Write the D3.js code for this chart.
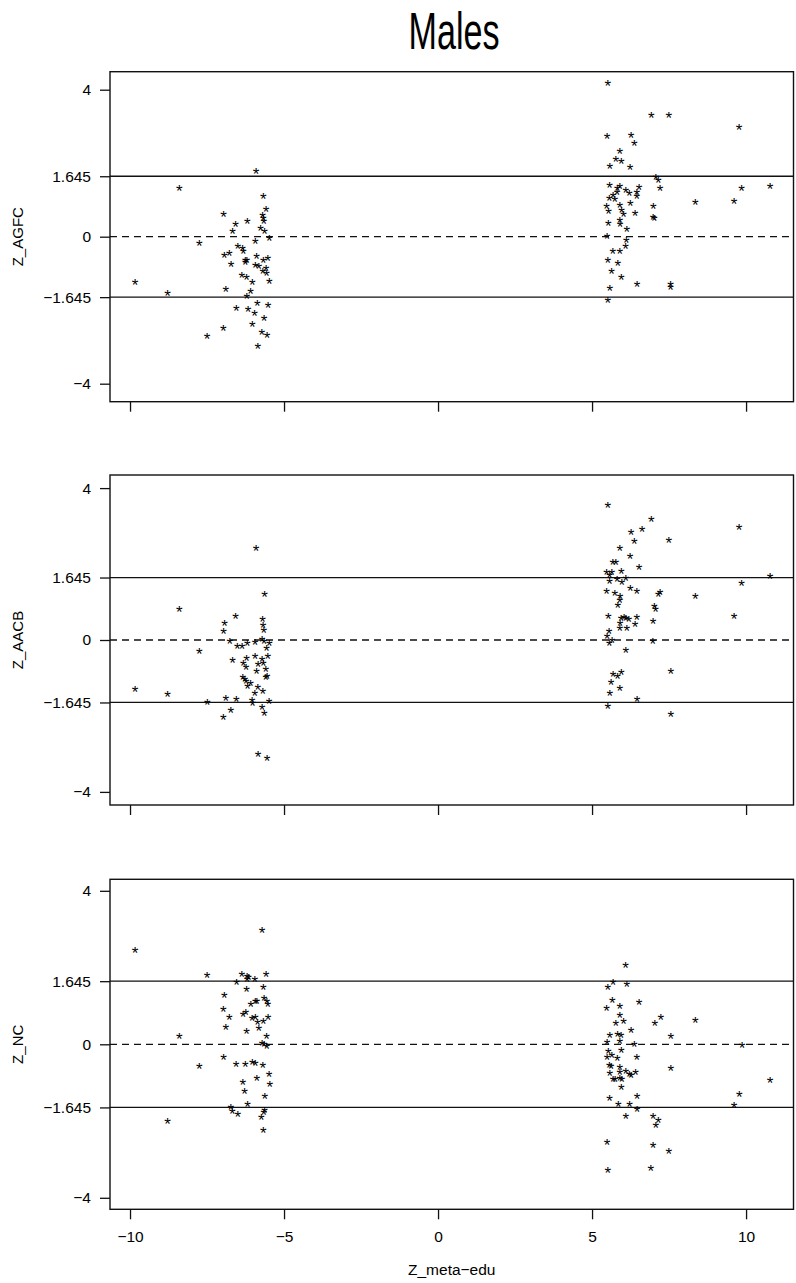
<!DOCTYPE html>
<html>
<head>
<meta charset="utf-8">
<script src="https://cdn.jsdelivr.net/npm/d3@7"></script>
<style>
  body { margin: 0; background: #fff; }
  text { font-family: "Liberation Sans", Arial, sans-serif; }
</style>
</head>
<body>
<div id="chart"></div>
<script>
// x ticks shared by all three panels, y ticks per panel
const xTicks = [-10, -5, 0, 5, 10];
const yTicks = [4, 1.645, 0, -1.645, -4];
const refValues = [1.645, 0, -1.645];
const panelLabels = ["Z_AGFC", "Z_AACB", "Z_NC"];

// [Z_meta-edu, Z_score]
const agfcPoints = [
  [-5.91, 1.80], [-8.40, 1.33], [-5.67, 1.13], [-5.58, 0.77], [-6.96, 0.63], [-5.70, 0.60],
  [-5.67, 0.53], [-5.66, 0.45], [-6.57, 0.36], [-6.19, 0.44], [-6.67, 0.16], [-5.76, 0.25],
  [-5.63, 0.17], [-5.48, -0.02], [-5.93, -0.10], [-7.75, -0.16], [-6.50, -0.25], [-6.35, -0.30],
  [-6.32, -0.38], [-6.94, -0.47], [-6.78, -0.44], [-5.89, -0.50], [-6.26, -0.62], [-6.26, -0.66],
  [-6.21, -0.63], [-5.53, -0.57], [-5.67, -0.63], [-6.72, -0.74], [-5.93, -0.75], [-5.82, -0.77],
  [-5.58, -0.83], [-5.69, -0.91], [-5.57, -0.96], [-6.37, -1.02], [-6.22, -1.08], [-6.03, -1.21],
  [-5.48, -1.18], [-9.84, -1.21], [-8.78, -1.51], [-6.89, -1.42], [-6.09, -1.47], [-6.21, -1.61],
  [-5.87, -1.79], [-5.52, -1.85], [-6.55, -1.93], [-6.17, -1.94], [-5.96, -2.06], [-5.65, -2.19],
  [-6.03, -2.36], [-6.97, -2.48], [-7.50, -2.68], [-5.72, -2.57], [-5.55, -2.67], [-5.85, -2.96],
  [5.51, 4.21], [6.92, 3.34], [7.49, 3.34], [9.77, 2.99], [5.49, 2.77], [6.27, 2.79],
  [6.37, 2.57], [5.90, 2.36], [5.77, 2.13], [5.95, 2.07], [5.58, 1.95], [6.23, 1.92],
  [7.07, 1.63], [7.15, 1.56], [7.21, 1.33], [5.57, 1.43], [5.82, 1.35], [5.90, 1.39],
  [6.10, 1.29], [6.21, 1.21], [6.53, 1.36], [6.45, 1.24], [6.45, 1.13], [9.85, 1.34],
  [10.78, 1.39], [5.81, 1.22], [5.68, 1.16], [5.56, 1.06], [5.74, 1.04], [8.35, 0.95],
  [9.61, 0.99], [6.24, 0.92], [5.90, 0.89], [6.99, 0.85], [5.47, 0.84], [5.54, 0.72],
  [5.96, 0.73], [6.02, 0.63], [6.40, 0.67], [6.98, 0.54], [7.02, 0.53], [5.90, 0.47],
  [5.53, 0.38], [5.91, 0.35], [6.13, 0.22], [5.49, 0.04], [6.11, -0.07], [6.09, -0.25],
  [5.67, -0.36], [5.90, -0.37], [5.51, -0.63], [5.84, -0.70], [5.63, -0.91], [5.95, -1.08],
  [6.46, -1.27], [7.55, -1.27], [7.55, -1.36], [5.58, -1.38], [5.51, -1.70]
];

const aacbPoints = [
  [-5.91, 2.43], [-5.63, 1.24], [-8.40, 0.82], [-6.57, 0.64], [-6.93, 0.46], [-5.70, 0.56],
  [-5.68, 0.40], [-5.66, 0.27], [-6.96, 0.24], [-6.76, 0.00], [-5.71, 0.05], [-5.65, 0.00],
  [-6.19, -0.07], [-5.94, -0.04], [-5.48, -0.07], [-6.52, -0.15], [-6.36, -0.15], [-5.57, -0.19],
  [-7.75, -0.27], [-6.22, -0.46], [-5.94, -0.41], [-5.71, -0.49], [-5.53, -0.41], [-6.67, -0.52],
  [-6.32, -0.58], [-6.23, -0.69], [-5.84, -0.62], [-5.67, -0.59], [-5.59, -0.74], [-5.89, -0.81],
  [-5.55, -0.94], [-5.59, -0.97], [-6.34, -0.96], [-6.27, -1.01], [-6.23, -1.06], [-6.09, -1.12],
  [-6.18, -1.19], [-5.85, -1.22], [-5.69, -1.32], [-5.95, -1.39], [-9.84, -1.27], [-8.78, -1.40],
  [-6.89, -1.51], [-6.55, -1.54], [-6.04, -1.56], [-7.49, -1.63], [-6.02, -1.65], [-5.49, -1.59],
  [-5.71, -1.74], [-6.73, -1.83], [-5.64, -1.90], [-6.97, -2.00], [-5.84, -2.98], [-5.55, -3.09],
  [5.51, 3.57], [6.92, 3.19], [6.62, 2.95], [6.27, 2.85], [9.77, 2.99], [6.37, 2.61],
  [7.49, 2.66], [5.90, 2.43], [6.23, 2.24], [5.67, 2.06], [5.77, 2.07], [6.53, 1.95],
  [5.47, 1.80], [5.64, 1.80], [5.95, 1.83], [5.57, 1.73], [10.78, 1.70], [6.10, 1.64],
  [5.81, 1.63], [5.57, 1.56], [5.97, 1.53], [9.85, 1.52], [6.24, 1.38], [6.45, 1.31],
  [7.21, 1.28], [7.15, 1.22], [5.47, 1.30], [5.74, 1.25], [8.35, 1.17], [5.91, 1.17],
  [5.90, 1.08], [5.84, 0.95], [7.02, 0.91], [7.06, 0.83], [6.98, 0.52], [9.61, 0.66],
  [5.53, 0.64], [5.94, 0.60], [6.04, 0.62], [6.10, 0.59], [6.19, 0.57], [6.45, 0.62],
  [5.91, 0.46], [6.40, 0.44], [5.90, 0.32], [6.13, 0.32], [5.55, 0.24], [5.49, 0.12],
  [5.65, 0.01], [5.56, -0.06], [6.97, -0.02], [6.10, -0.24], [7.56, -0.79], [5.68, -0.88],
  [5.83, -0.92], [5.95, -0.84], [5.62, -1.10], [5.90, -1.25], [5.58, -1.37], [6.46, -1.53],
  [5.51, -1.73], [7.56, -1.94]
];

const ncPoints = [
  [-5.71, 2.99], [-9.84, 2.48], [-7.50, 1.81], [-6.37, 1.84], [-6.20, 1.80], [-6.15, 1.77],
  [-5.95, 1.73], [-5.58, 1.84], [-6.20, 1.71], [-6.54, 1.63], [-5.67, 1.50], [-6.22, 1.45],
  [-6.94, 1.31], [-5.65, 1.22], [-5.93, 1.14], [-5.88, 1.15], [-5.56, 1.15], [-5.53, 1.07],
  [-6.08, 1.07], [-6.97, 0.93], [-6.24, 0.85], [-6.33, 0.80], [-6.78, 0.74], [-5.93, 0.74],
  [-6.04, 0.70], [-5.52, 0.74], [-5.86, 0.59], [-5.67, 0.61], [-6.89, 0.47], [-5.82, 0.45],
  [-6.22, 0.35], [-8.40, 0.24], [-5.57, 0.24], [-5.71, 0.06], [-5.65, 0.03], [-5.56, -0.03],
  [-6.96, -0.31], [-7.75, -0.56], [-6.56, -0.50], [-6.26, -0.49], [-6.03, -0.45], [-5.93, -0.46],
  [-5.69, -0.52], [-5.49, -0.76], [-5.88, -0.86], [-5.46, -1.01], [-6.34, -0.97], [-6.28, -1.20],
  [-5.62, -1.32], [-6.18, -1.54], [-6.73, -1.62], [-6.68, -1.71], [-6.50, -1.80], [-5.63, -1.69],
  [-5.66, -1.75], [-5.74, -1.88], [-8.78, -1.99], [-5.67, -2.22],
  [6.09, 2.07], [5.51, 1.52], [5.68, 1.63], [6.13, 1.59], [5.66, 1.17], [6.53, 1.11],
  [5.47, 0.95], [5.90, 1.02], [7.23, 0.74], [7.04, 0.57], [8.35, 0.64], [5.90, 0.79],
  [5.77, 0.56], [6.02, 0.61], [6.27, 0.38], [7.56, 0.24], [5.58, 0.27], [5.83, 0.29],
  [5.94, 0.25], [5.49, 0.08], [5.90, 0.10], [6.37, 0.02], [9.87, 0.00], [5.53, -0.16],
  [5.95, -0.14], [5.64, -0.26], [5.49, -0.31], [5.82, -0.35], [6.45, -0.31], [7.56, -0.60],
  [5.56, -0.52], [5.62, -0.55], [5.90, -0.58], [5.90, -0.70], [6.10, -0.68], [6.21, -0.75],
  [6.27, -0.79], [6.41, -0.71], [5.58, -0.74], [5.68, -0.89], [5.75, -0.90], [5.90, -0.87],
  [5.97, -0.90], [5.95, -1.10], [10.78, -0.91], [6.46, -1.33], [9.78, -1.27], [5.57, -1.39],
  [5.85, -1.53], [6.22, -1.55], [6.46, -1.67], [9.61, -1.57], [6.10, -1.84], [6.98, -1.84],
  [7.15, -1.97], [7.07, -2.10], [5.49, -2.53], [6.98, -2.62], [7.49, -2.77], [5.51, -3.27],
  [6.91, -3.20]
];

const width = 796;
const height = 1283;
const boxLeft = 110, boxRight = 793.5;
const panelTops = [71.7, 475, 879.3];
const panelHeight = 330;
const yLimits = [4.49, 4.345, 4.3];

const minusFormat = (d) => (d < 0 ? "\u2212" + Math.abs(d) : String(d));

const svg = d3.select("#chart")
  .append("svg")
  .attr("width", width)
  .attr("height", height);

const x = d3.scaleLinear().domain([-10.65, 11.54]).range([boxLeft, boxRight]);

svg.append("text")
  .attr("x", 454)
  .attr("y", 49)
  .attr("text-anchor", "middle")
  .attr("font-size", 52)
  .attr("textLength", 91)
  .attr("lengthAdjust", "spacingAndGlyphs")
  .text("Males");

const allPoints = [agfcPoints, aacbPoints, ncPoints];

allPoints.forEach((points, i) => {
  const top = panelTops[i];
  const lim = yLimits[i];
  const y = d3.scaleLinear().domain([-lim, lim]).range([top + panelHeight, top]);
  const g = svg.append("g");

  // reference lines
  g.selectAll("line.ref")
    .data(refValues)
    .join("line")
    .attr("class", "ref")
    .attr("x1", boxLeft).attr("x2", boxRight)
    .attr("y1", (d) => y(d)).attr("y2", (d) => y(d))
    .attr("stroke", "#111")
    .attr("stroke-width", 1.3)
    .attr("stroke-dasharray", (d) => (d === 0 ? "7,5" : null));

  // y axis
  const yAxis = g.append("g")
    .attr("transform", `translate(${boxLeft},0)`)
    .call(d3.axisLeft(y).tickValues(yTicks).tickSize(10).tickPadding(9)
      .tickFormat(minusFormat));
  yAxis.select(".domain").remove();
  yAxis.selectAll("line").attr("stroke", "#111").attr("stroke-width", 1.3);
  yAxis.selectAll("text").attr("font-size", 15.5).attr("fill", "#000")
    .attr("font-family", "'Liberation Sans', Arial, sans-serif");

  // x axis ticks (labels only on last panel)
  const xAxis = g.append("g")
    .attr("transform", `translate(0,${top + panelHeight})`)
    .call(d3.axisBottom(x).tickValues(xTicks).tickSize(10).tickPadding(12)
      .tickFormat((d) => (i === 2 ? minusFormat(d) : "")));
  xAxis.select(".domain").remove();
  xAxis.selectAll("line").attr("stroke", "#111").attr("stroke-width", 1.3);
  xAxis.selectAll("text").attr("font-size", 15.5).attr("fill", "#000")
    .attr("font-family", "'Liberation Sans', Arial, sans-serif");

  // frame
  g.append("rect")
    .attr("x", boxLeft).attr("y", top)
    .attr("width", boxRight - boxLeft).attr("height", panelHeight)
    .attr("fill", "none")
    .attr("stroke", "#111")
    .attr("stroke-width", 1.4);

  // points drawn as "*" characters, like pch = "*"
  g.selectAll("text.pt")
    .data(points)
    .join("text")
    .attr("class", "pt")
    .attr("x", (d) => x(d[0]))
    .attr("y", (d) => y(d[1]) + 9.6)
    .attr("text-anchor", "middle")
    .attr("font-size", 17)
    .attr("fill", "#000")
    .text("*");

  // y label
  g.append("text")
    .attr("transform", `translate(23,${top + panelHeight / 2}) rotate(-90)`)
    .attr("text-anchor", "middle")
    .attr("font-size", 15)
    .text(panelLabels[i]);
});

svg.append("text")
  .attr("x", (boxLeft + boxRight) / 2)
  .attr("y", 1275)
  .attr("text-anchor", "middle")
  .attr("font-size", 15.5)
  .text("Z_meta\u2212edu");
</script>
</body>
</html>
